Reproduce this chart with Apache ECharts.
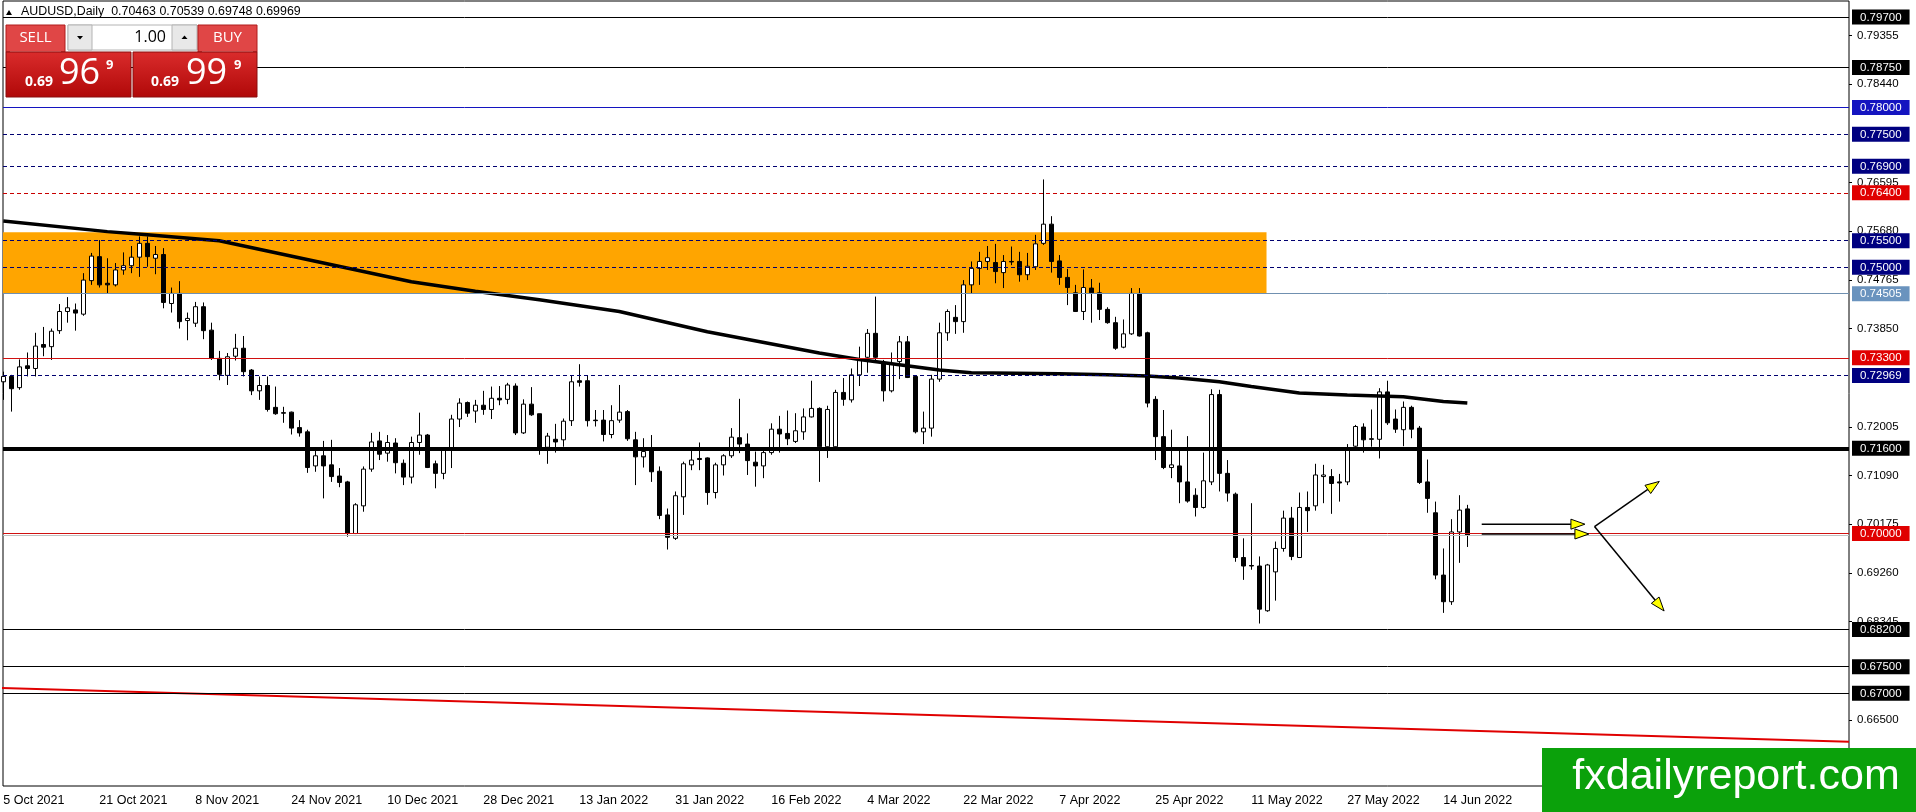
<!DOCTYPE html>
<html>
<head>
<meta charset="utf-8">
<title>AUDUSD Daily</title>
<script src="https://cdn.jsdelivr.net/npm/echarts@6.0.0/dist/echarts.min.js"></script>
<style>
html,body{margin:0;padding:0;background:#ffffff;overflow:hidden;}
#chart{width:1916px;height:812px;}
</style>
</head>
<body>
<div id="chart"></div>
<script>
// ---------------- DATA ----------------
const dateLabels = ['5 Oct 2021','21 Oct 2021','8 Nov 2021','24 Nov 2021','10 Dec 2021','28 Dec 2021',
  '13 Jan 2022','31 Jan 2022','16 Feb 2022','4 Mar 2022','22 Mar 2022','7 Apr 2022','25 Apr 2022',
  '11 May 2022','27 May 2022','14 Jun 2022'];
const dateLabelBars = [0,12,24,36,48,60,72,84,96,108,120,132,144,156,168,180];

const opens = [0.7285,0.7295,0.7274,0.7315,0.7310,0.7355,0.7351,0.7381,0.7417,0.7420,
0.7412,0.7475,0.7520,0.7470,0.7467,0.7495,0.7503,0.7519,0.7545,0.7517,
0.7524,0.7432,0.7451,0.7400,0.7395,0.7426,0.7382,0.7329,0.7297,0.7333,
0.7348,0.7307,0.7268,0.7278,0.7237,0.7227,0.7228,0.7199,0.7191,0.7127,
0.7146,0.7129,0.7108,0.7097,0.7000,0.7052,0.7121,0.7174,0.7151,0.7170,
0.7132,0.7106,0.7171,0.7185,0.7131,0.7113,0.7157,0.7215,0.7246,0.7230,
0.7241,0.7233,0.7254,0.7252,0.7277,0.7189,0.7243,0.7225,0.7162,0.7177,
0.7176,0.7212,0.7287,0.7287,0.7213,0.7213,0.7186,0.7213,0.7229,0.7176,
0.7144,0.7155,0.7117,0.7035,0.6991,0.7069,0.7129,0.7141,0.7142,0.7077,
0.7129,0.7146,0.7180,0.7168,0.7134,0.7127,0.7152,0.7196,0.7188,0.7173,
0.7191,0.7219,0.7235,0.7163,0.7163,0.7265,0.7251,0.7298,0.7331,0.7376,
0.7320,0.7268,0.7323,0.7360,0.7295,0.7191,0.7198,0.7290,0.7377,0.7406,
0.7398,0.7467,0.7498,0.7511,0.7509,0.7490,0.7511,0.7511,0.7486,0.7501,
0.7545,0.7581,0.7512,0.7481,0.7452,0.7417,0.7461,0.7452,0.7421,0.7396,
0.7350,0.7375,0.7451,0.7377,0.7252,0.7182,0.7124,0.7127,0.7097,0.7072,
0.7049,0.7097,0.7261,0.7113,0.7074,0.6955,0.6940,0.6939,0.6855,0.6928,
0.6972,0.7029,0.6955,0.7049,0.7052,0.7107,0.7107,0.7097,0.7097,0.7164,
0.7200,0.7178,0.7177,0.7266,0.7215,0.7195,0.7237,0.7198,0.7097,0.7039,
0.6922,0.6872,0.7003,0.70463];

const highs = [0.7304,0.7298,0.7327,0.7340,0.7377,0.7388,0.7385,0.7431,0.7444,0.7432,
0.7489,0.7527,0.7551,0.7517,0.7508,0.7528,0.7540,0.7558,0.7558,0.7540,
0.7536,0.7462,0.7474,0.7415,0.7435,0.7434,0.7396,0.7343,0.7339,0.7375,
0.7371,0.7309,0.7295,0.7295,0.7276,0.7238,0.7229,0.7213,0.7195,0.7157,
0.7174,0.7176,0.7123,0.7099,0.7057,0.7126,0.7189,0.7191,0.7185,0.7179,
0.7139,0.7182,0.7227,0.7187,0.7137,0.7162,0.7223,0.7254,0.7248,0.7251,
0.7268,0.7276,0.7277,0.7283,0.7282,0.7252,0.7275,0.7225,0.7189,0.7206,
0.7216,0.7296,0.7318,0.7296,0.7232,0.7232,0.7241,0.7279,0.7232,0.7191,
0.7179,0.7185,0.7126,0.7047,0.7079,0.7135,0.7157,0.7171,0.7143,0.7133,
0.7149,0.7198,0.7253,0.7188,0.7154,0.7157,0.7207,0.7221,0.7231,0.7226,
0.7235,0.7287,0.7237,0.7240,0.7270,0.7292,0.7310,0.7351,0.7384,0.7445,
0.7326,0.7340,0.7371,0.7371,0.7295,0.7229,0.7298,0.7396,0.7421,0.7429,
0.7476,0.7511,0.7529,0.7540,0.7544,0.7523,0.7539,0.7529,0.7527,0.7561,
0.7665,0.7596,0.7523,0.7497,0.7467,0.7496,0.7478,0.7471,0.7425,0.7407,
0.7402,0.7461,0.7461,0.7379,0.7258,0.7232,0.7195,0.7157,0.7183,0.7085,
0.7152,0.7271,0.7270,0.7138,0.7077,0.6991,0.7057,0.6957,0.6943,0.6985,
0.7043,0.7050,0.7077,0.7079,0.7131,0.7129,0.7121,0.7112,0.7168,0.7204,
0.7207,0.7233,0.7273,0.7287,0.7233,0.7248,0.7240,0.7202,0.7139,0.7060,
0.6972,0.7027,0.7072,0.70539];

const lows = [0.7251,0.7229,0.7270,0.7295,0.7295,0.7333,0.7326,0.7375,0.7396,0.7381,
0.7409,0.7467,0.7462,0.7450,0.7464,0.7486,0.7489,0.7482,0.7501,0.7487,
0.7423,0.7415,0.7385,0.7363,0.7388,0.7365,0.7326,0.7288,0.7279,0.7325,
0.7295,0.7260,0.7251,0.7229,0.7223,0.7208,0.7186,0.7182,0.7114,0.7116,
0.7066,0.7097,0.7087,0.6994,0.6999,0.7041,0.7116,0.7138,0.7135,0.7113,
0.7091,0.7094,0.7148,0.7123,0.7085,0.7102,0.7123,0.7200,0.7219,0.7208,
0.7223,0.7215,0.7241,0.7243,0.7185,0.7187,0.7221,0.7148,0.7131,0.7152,
0.7163,0.7202,0.7276,0.7201,0.7201,0.7173,0.7179,0.7208,0.7174,0.7091,
0.7124,0.7097,0.7027,0.6970,0.6988,0.7035,0.7119,0.7119,0.7054,0.7066,
0.7109,0.7142,0.7151,0.7110,0.7088,0.7104,0.7148,0.7152,0.7166,0.7170,
0.7176,0.7218,0.7097,0.7142,0.7162,0.7240,0.7246,0.7277,0.7302,0.7325,
0.7248,0.7265,0.7290,0.7292,0.7188,0.7168,0.7182,0.7285,0.7362,0.7375,
0.7377,0.7451,0.7467,0.7495,0.7470,0.7461,0.7504,0.7473,0.7476,0.7495,
0.7542,0.7490,0.7467,0.7429,0.7416,0.7401,0.7396,0.7401,0.7394,0.7345,
0.7348,0.7373,0.7370,0.7237,0.7138,0.7121,0.7104,0.7057,0.7058,0.7032,
0.7047,0.7091,0.7079,0.7060,0.6947,0.6913,0.6932,0.6831,0.6853,0.6874,
0.6966,0.6950,0.6954,0.7003,0.7043,0.7057,0.7037,0.7060,0.7091,0.7156,
0.7152,0.7163,0.7141,0.7204,0.7189,0.7164,0.7179,0.7093,0.7039,0.6914,
0.6851,0.6866,0.6945,0.69748];

const closes = [0.7295,0.7272,0.7313,0.7310,0.7352,0.7350,0.7380,0.7417,0.7424,0.7414,
0.7476,0.7521,0.7467,0.7467,0.7495,0.7503,0.7519,0.7545,0.7520,0.7524,
0.7434,0.7451,0.7398,0.7404,0.7426,0.7381,0.7329,0.7299,0.7332,0.7348,
0.7304,0.7268,0.7278,0.7233,0.7225,0.7226,0.7198,0.7189,0.7124,0.7146,
0.7127,0.7107,0.7096,0.7000,0.7054,0.7121,0.7172,0.7149,0.7171,0.7133,
0.7106,0.7171,0.7185,0.7124,0.7113,0.7157,0.7215,0.7245,0.7226,0.7241,
0.7233,0.7254,0.7251,0.7279,0.7189,0.7243,0.7223,0.7162,0.7183,0.7172,
0.7211,0.7285,0.7284,0.7212,0.7212,0.7186,0.7212,0.7228,0.7178,0.7144,
0.7154,0.7116,0.7034,0.6993,0.7071,0.7131,0.7138,0.7139,0.7077,0.7129,
0.7146,0.7181,0.7168,0.7137,0.7127,0.7152,0.7196,0.7187,0.7178,0.7193,
0.7219,0.7235,0.7163,0.7233,0.7265,0.7252,0.7298,0.7326,0.7376,0.7331,
0.7268,0.7318,0.7360,0.7293,0.7191,0.7198,0.7290,0.7377,0.7417,0.7398,
0.7467,0.7498,0.7511,0.7518,0.7492,0.7511,0.7510,0.7486,0.7502,0.7544,
0.7581,0.7511,0.7481,0.7462,0.7417,0.7462,0.7452,0.7421,0.7396,0.7348,
0.7375,0.7451,0.7371,0.7245,0.7182,0.7124,0.7129,0.7097,0.7061,0.7049,
0.7099,0.7261,0.7113,0.7076,0.6955,0.6939,0.6939,0.6858,0.6941,0.6972,
0.7029,0.6957,0.7049,0.7043,0.7110,0.7110,0.7094,0.7095,0.7158,0.7201,
0.7176,0.7177,0.7266,0.7208,0.7196,0.7237,0.7196,0.7096,0.7066,0.6922,
0.6872,0.7003,0.7044,0.69969];

// moving average read at selected bars
const maBars   = [0,13,18,27,51,59,67,77,88,102,107,117,121,132,138,143,147,152,156,162,168,175,180,183];
const maValues = [0.7587,0.7567,0.7561,0.7550,0.7473,0.7455,0.7439,0.7417,0.7379,0.7339,0.7327,0.7307,
                  0.7302,0.7300,0.7298,0.7296,0.7292,0.7285,0.7276,0.7264,0.7260,0.7257,0.7248,0.7245];

// horizontal levels, grouped by drawing kind
const blackLevels   = [0.79700,0.78750,0.68200,0.67500,0.67000];
const thickLevels   = [0.71600];
const blueLevels    = [0.78000];
const navyDashLevels= [0.77500,0.76900,0.75500,0.75000,0.72969];
const redDashLevels = [0.76400];
const redLevels     = [0.73300,0.70000];
const steelLevels   = [0.74505];
const bidPrice = 0.69969;
const askPrice = 0.69999;

// price-scale tick labels
const priceTicks = [0.79355,0.78440,0.76595,0.75680,0.74765,0.73850,0.72005,0.71090,0.70175,0.69260,0.68345,0.66500];

// supply zone rectangle (bar index range, price range)
const zoneBars   = [-0.04, 157.9];
const zonePrices = [0.7566, 0.74505];

// red trend line end points [bar, price]
const trendBars   = [-0.4, 230.7];
const trendPrices = [0.6710, 0.66091];

// arrows [barFrom, priceFrom, barTo, priceTo]
const arrowList = [
  [184.8, 0.70176, 197.7, 0.70176],
  [184.8, 0.69992, 198.2, 0.69992],
  [198.9, 0.70131, 207.0, 0.70979],
  [198.9, 0.70131, 207.6, 0.68546]
];

// ---------------- CHART ----------------
const FONT = "'Liberation Sans', Arial, sans-serif";
const UIFONT = "'Open Sans', 'Noto Sans', sans-serif";
const chart = echarts.init(document.getElementById('chart'), null, {renderer:'canvas', width:1916, height:812});

const candleData = opens.map((o, i) => [i, o, closes[i], lows[i], highs[i]]);
const maData = maBars.map((b, i) => [b, maValues[i]]);
const trendData = trendBars.map((b, i) => [b, trendPrices[i]]);

const kindStyles = {
  black:   {color:'#000000', width:1, type:'solid', box:'#000000'},
  thick:   {color:'#000000', width:4, type:'solid', box:'#000000'},
  blue:    {color:'#1414C0', width:1, type:'solid', box:'#1414C0'},
  navy:    {color:'#000070', width:1, type:[4,3],   box:'#000080'},
  redDash: {color:'#C80000', width:1, type:[4,3],   box:'#E00000'},
  red:     {color:'#D01010', width:1, type:'solid', box:'#E00000'},
  steel:   {color:'#7090B0', width:1, type:'solid', box:'#6A93BE'}
};
const kindLevels = {black:blackLevels, thick:thickLevels, blue:blueLevels, navy:navyDashLevels,
  redDash:redDashLevels, red:redLevels, steel:steelLevels};

const markLineData = [{yAxis: bidPrice, lineStyle:{color:'#C0C0C0', width:1, type:'solid'}}];
const boxMap = {};
Object.keys(kindLevels).forEach(k => {
  kindLevels[k].forEach(v => {
    const s = kindStyles[k];
    markLineData.push({yAxis: v, lineStyle:{color:s.color, width:s.width, type:s.type}});
    boxMap[v.toFixed(5)] = k;
  });
});
const allLevels = [].concat(blackLevels, thickLevels, blueLevels, navyDashLevels, redDashLevels, redLevels, steelLevels);
const yLabelValues = priceTicks.concat(allLevels);

const rich = { p: {color:'#000', fontSize:11.5, fontFamily:FONT, padding:[0,0,0,5]} };
Object.keys(kindStyles).forEach(k => {
  rich[k] = {color:'#fff', backgroundColor:kindStyles[k].box, fontSize:11.5, fontFamily:FONT,
             padding:[2,8,1,8], lineHeight:12};
});

function arrowRender(params, api) {
  const p1 = api.coord([api.value(0), api.value(1)]);
  const p2 = api.coord([api.value(2), api.value(3)]);
  const dx = p2[0]-p1[0], dy = p2[1]-p1[1];
  const len = Math.sqrt(dx*dx+dy*dy) || 1;
  const ux = dx/len, uy = dy/len;
  const hl = 14, hw = 5;
  const bx = p2[0]-ux*hl, by = p2[1]-uy*hl;
  return {type:'group', children:[
    {type:'line', shape:{x1:p1[0], y1:p1[1], x2:bx, y2:by}, style:{stroke:'#000', lineWidth:1.5}},
    {type:'polygon', shape:{points:[[p2[0],p2[1]],[bx-uy*hw, by+ux*hw],[bx+uy*hw, by-ux*hw]]},
     style:{fill:'#FFFF00', stroke:'#000', lineWidth:1}}
  ]};
}

const last = candleData.length - 1;
const titleText = 'AUDUSD,Daily  ' + [opens[last], highs[last], lows[last], closes[last]].map(v => v.toFixed(5)).join(' ');
const bidStr = bidPrice.toFixed(5), askStr = askPrice.toFixed(5);

const redGrad = new echarts.graphic.LinearGradient(0,0,0,1,[{offset:0,color:'#DA2C2C'},{offset:1,color:'#B00808'}]);
const gz = 100;
const graphics = [
  {type:'polygon', z:gz, shape:{points:[[6,15],[12,15],[9,10]]}, style:{fill:'#000'}},
  {type:'text', z:gz, x:21, y:12, style:{text:titleText, font:'12.4px '+FONT, fill:'#000', verticalAlign:'middle'}},
  // SELL header
  {type:'rect', z:gz, shape:{x:6,y:25,width:59,height:27}, style:{fill:'#E04646', stroke:'#B01C1C', lineWidth:1}},
  {type:'line', z:gz, shape:{x1:10,y1:51.5,x2:61,y2:51.5}, style:{stroke:'#F08080', lineWidth:1}},
  {type:'text', z:gz, x:35.5, y:38, style:{text:'SELL', font:'15px '+UIFONT, fill:'#fff', align:'center', verticalAlign:'middle'}},
  // lot spinner
  {type:'rect', z:gz, shape:{x:68,y:25,width:129,height:25}, style:{fill:'#fff', stroke:'#B4B4B4', lineWidth:1}},
  {type:'rect', z:gz, shape:{x:68,y:25,width:24,height:25}, style:{fill:'#E8E8E8', stroke:'#B4B4B4', lineWidth:1}},
  {type:'rect', z:gz, shape:{x:172,y:25,width:25,height:25}, style:{fill:'#E8E8E8', stroke:'#B4B4B4', lineWidth:1}},
  {type:'polygon', z:gz, shape:{points:[[77,36],[83,36],[80,39.5]]}, style:{fill:'#000'}},
  {type:'polygon', z:gz, shape:{points:[[181.5,39],[187.5,39],[184.5,35.5]]}, style:{fill:'#000'}},
  {type:'text', z:gz, x:166, y:37.5, style:{text:'1.00', font:'16px '+UIFONT, fill:'#000', align:'right', verticalAlign:'middle'}},
  // BUY header
  {type:'rect', z:gz, shape:{x:198,y:25,width:59,height:27}, style:{fill:'#E04646', stroke:'#B01C1C', lineWidth:1}},
  {type:'line', z:gz, shape:{x1:202,y1:51.5,x2:253,y2:51.5}, style:{stroke:'#F08080', lineWidth:1}},
  {type:'text', z:gz, x:227.5, y:38, style:{text:'BUY', font:'15px '+UIFONT, fill:'#fff', align:'center', verticalAlign:'middle'}},
  // SELL price block
  {type:'rect', z:gz, shape:{x:6,y:52,width:125,height:45}, style:{fill:redGrad, stroke:'#8A0E0E', lineWidth:1}},
  {type:'text', z:gz, x:25, y:82, style:{text:bidStr.slice(0,4), font:'bold 14px '+UIFONT, fill:'#fff', verticalAlign:'middle'}},
  {type:'text', z:gz, x:59, y:74, style:{text:bidStr.slice(4,6), font:'36px '+UIFONT, fill:'#fff', verticalAlign:'middle'}},
  {type:'text', z:gz, x:106, y:65, style:{text:bidStr.slice(6,7), font:'bold 13px '+UIFONT, fill:'#fff', verticalAlign:'middle'}},
  // BUY price block
  {type:'rect', z:gz, shape:{x:133,y:52,width:124,height:45}, style:{fill:redGrad, stroke:'#8A0E0E', lineWidth:1}},
  {type:'text', z:gz, x:151, y:82, style:{text:askStr.slice(0,4), font:'bold 14px '+UIFONT, fill:'#fff', verticalAlign:'middle'}},
  {type:'text', z:gz, x:186, y:74, style:{text:askStr.slice(4,6), font:'36px '+UIFONT, fill:'#fff', verticalAlign:'middle'}},
  {type:'text', z:gz, x:234, y:65, style:{text:askStr.slice(6,7), font:'bold 13px '+UIFONT, fill:'#fff', verticalAlign:'middle'}},
  // watermark
  {type:'rect', z:gz, shape:{x:1542,y:748,width:374,height:64}, style:{fill:'#0BA10B'}},
  {type:'text', z:gz, x:1736, y:777, style:{text:'fxdailyreport.com', font:'43px '+FONT, fill:'#fff', align:'center', verticalAlign:'middle'}}
];

const option = {
  animation: false,
  backgroundColor: '#ffffff',
  grid: {left:3, right:67, top:1, bottom:26, show:true, borderColor:'#000', borderWidth:1, backgroundColor:'#fff', containLabel:false},
  xAxis: {
    type:'value', min:-0.04, max:230.71,
    splitLine:{show:false}, axisLine:{show:false, onZero:false},
    axisTick:{show:false},
    axisLabel:{customValues:dateLabelBars, formatter:(v)=>dateLabels[Math.round(v/12)],
               align:'left', margin:8, fontSize:12.5, fontFamily:FONT, color:'#000'}
  },
  yAxis: {
    type:'value', position:'right', min:0.65259, max:0.80001,
    splitLine:{show:false}, axisLine:{show:false, onZero:false},
    axisTick:{show:true, customValues:priceTicks, length:3, lineStyle:{color:'#000'}},
    axisLabel:{customValues:yLabelValues, margin:3, rich:rich,
      formatter:(v)=>{ const k=v.toFixed(5); return boxMap[k] ? '{'+boxMap[k]+'|'+k+'}' : '{p|'+k+'}'; }}
  },
  series: [
    {
      type:'line', name:'zone', data:[], z:1, silent:true,
      markArea:{silent:true, z:1, itemStyle:{color:'#FFA500', opacity:1},
        data:[[{coord:[zoneBars[0], zonePrices[0]]},{coord:[zoneBars[1], zonePrices[1]]}]]}
    },
    {
      type:'candlestick', name:'AUDUSD', data:candleData, z:2, barWidth:4, clip:true, silent:true,
      itemStyle:{color:'#ffffff', color0:'#000000', borderColor:'#000000', borderColor0:'#000000',
                 borderColorDoji:'#000000', borderWidth:1}
    },
    {
      type:'line', name:'MA', data:maData, z:3, symbol:'none', silent:true, clip:true,
      lineStyle:{color:'#000', width:3.5}
    },
    {
      type:'line', name:'trend', data:trendData, z:3, symbol:'none', silent:true, clip:true,
      lineStyle:{color:'#E00000', width:2}
    },
    {
      type:'line', name:'levels', data:[], z:4, silent:true,
      markLine:{silent:true, z:4, precision:5, symbol:['none','none'], label:{show:false}, animation:false,
        data: markLineData}
    },
    {
      type:'custom', name:'arrows', data:arrowList, z:6, silent:true, clip:false,
      encode:{x:[0,2], y:[1,3]}, renderItem: arrowRender
    }
  ],
  graphic: {elements: graphics}
};
chart.setOption(option);
</script>
</body>
</html>
